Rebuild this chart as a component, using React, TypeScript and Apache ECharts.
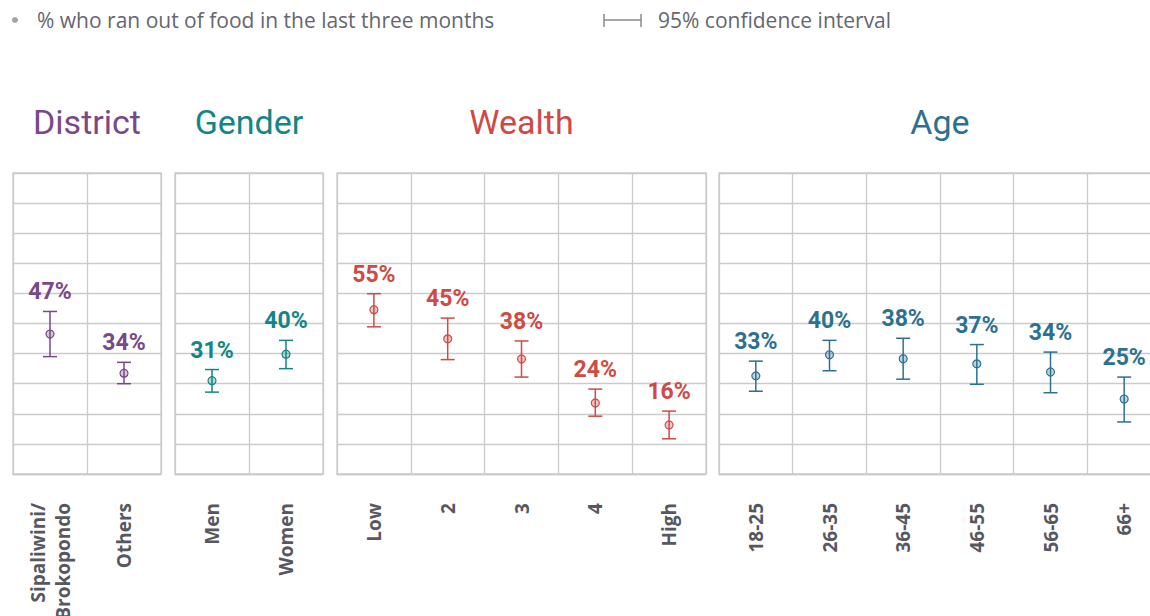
import React, { useEffect, useRef } from "react";
import * as echarts from "echarts";

// ---- data ----
const districtCats = ["Sipaliwini/\nBrokopondo", "Others"];
const districtPct = [46.5, 33.5];
const districtLow = [39.0, 30.0];
const districtHigh = [54.0, 37.1];

const genderCats = ["Men", "Women"];
const genderPct = [31.0, 39.8];
const genderLow = [27.2, 35.0];
const genderHigh = [34.7, 44.4];

const wealthCats = ["Low", "2", "3", "4", "High"];
const wealthPct = [54.6, 44.9, 38.2, 23.6, 16.3];
const wealthLow = [48.9, 38.0, 32.2, 19.2, 11.7];
const wealthHigh = [59.9, 51.8, 44.2, 28.2, 20.9];

const ageCats = ["18-25", "26-35", "36-45", "46-55", "56-65", "66+"];
const agePct = [32.6, 39.6, 38.3, 36.6, 33.9, 24.9];
const ageLow = [27.5, 34.3, 31.5, 29.8, 27.0, 17.3];
const ageHigh = [37.5, 44.4, 45.1, 43.0, 40.5, 32.2];

const groupTitles = ["District", "Gender", "Wealth", "Age"];
const groupColors = ["#784889", "#138684", "#cf4a45", "#2c718f"];
const groupFills = [
  "rgba(120,72,137,0.3)",
  "rgba(19,134,132,0.3)",
  "rgba(207,74,69,0.3)",
  "rgba(44,113,143,0.3)",
];

const legendLabel = "% who ran out of food in the last three months";
const ciLabel = "95% confidence interval";

const yMin = 0;
const yMax = 100;
const yStep = 10;

// ---- layout ----
const gridLefts = [13, 175, 337, 719];
const gridWidths = [148, 148, 369, 442];
const gridTop = 173;
const gridHeight = 301;
const gridLine = "#cbcbcb";

const groups = [
  { cats: districtCats, pct: districtPct, low: districtLow, high: districtHigh },
  { cats: genderCats, pct: genderPct, low: genderLow, high: genderHigh },
  { cats: wealthCats, pct: wealthPct, low: wealthLow, high: wealthHigh },
  { cats: ageCats, pct: agePct, low: ageLow, high: ageHigh },
];

export default function App() {
  const ref = useRef<HTMLDivElement>(null);

  useEffect(() => {
    if (!ref.current) return;
    const chart = echarts.init(ref.current, undefined, { renderer: "svg" });

    const grid = groups.map((_, i) => ({
      left: gridLefts[i],
      top: gridTop,
      width: gridWidths[i],
      height: gridHeight,
      show: true,
      borderColor: gridLine,
      borderWidth: 1.3,
      containLabel: false,
      outerBoundsMode: "none",
    }));

    const xAxis = groups.map((g, i) => ({
      type: "category",
      gridIndex: i,
      data: g.cats,
      boundaryGap: true,
      axisTick: { show: false },
      axisLine: { show: true, lineStyle: { color: gridLine, width: 1.3 } },
      splitLine: { show: true, interval: 0, lineStyle: { color: gridLine, width: 1.3 } },
      axisLabel: {
        interval: 0,
        rotate: 90,
        margin: 29,
        fontFamily: "Open Sans",
        fontWeight: "bold",
        fontSize: 19,
        lineHeight: 25,
        color: "#575760",
      },
    }));

    const yAxis = groups.map((_, i) => ({
      type: "value",
      gridIndex: i,
      min: yMin,
      max: yMax,
      interval: yStep,
      axisLabel: { show: false },
      axisLine: { show: false },
      axisTick: { show: false },
      splitLine: { show: true, lineStyle: { color: gridLine, width: 1.3 } },
    }));

    const series: any[] = [];
    groups.forEach((g, i) => {
      const color = groupColors[i];
      series.push({
        type: "custom",
        xAxisIndex: i,
        yAxisIndex: i,
        silent: true,
        data: g.cats.map((_, j) => [j, g.low[j], g.high[j]]),
        renderItem: (params: any, api: any) => {
          const lo = api.coord([api.value(0), api.value(1)]);
          const hi = api.coord([api.value(0), api.value(2)]);
          const cap = 7;
          const style = { stroke: color, lineWidth: 1.5 };
          return {
            type: "group",
            children: [
              { type: "line", shape: { x1: lo[0], y1: lo[1], x2: hi[0], y2: hi[1] }, style },
              { type: "line", shape: { x1: hi[0] - cap, y1: hi[1], x2: hi[0] + cap, y2: hi[1] }, style },
              { type: "line", shape: { x1: lo[0] - cap, y1: lo[1], x2: lo[0] + cap, y2: lo[1] }, style },
            ],
          };
        },
        z: 2,
      });
      series.push({
        type: "scatter",
        xAxisIndex: i,
        yAxisIndex: i,
        silent: true,
        symbol: "circle",
        symbolSize: 8,
        itemStyle: { color: groupFills[i], borderColor: color, borderWidth: 1.2, opacity: 1 },
        data: g.cats.map((_, j) => [j, g.pct[j]]),
        z: 3,
      });
      series.push({
        type: "scatter",
        xAxisIndex: i,
        yAxisIndex: i,
        silent: true,
        symbolSize: 0,
        itemStyle: { opacity: 1 },
        data: g.cats.map((_, j) => [j, g.high[j], g.pct[j]]),
        label: {
          show: true,
          position: "top",
          distance: 8,
          formatter: (p: any) => Math.round(p.value[2]) + "%",
          color,
          opacity: 1,
          fontFamily: "Roboto",
          fontWeight: "bold",
          fontSize: 23,
        },
        z: 4,
      });
    });

    const graphic: any[] = [];
    groups.forEach((_, i) => {
      graphic.push({
        type: "text",
        x: gridLefts[i] + gridWidths[i] / 2,
        y: 122,
        style: {
          text: groupTitles[i],
          fill: groupColors[i],
          fontFamily: "Roboto",
          fontSize: 34,
          align: "center",
          verticalAlign: "middle",
        },
      });
    });
    graphic.push({
      type: "circle",
      shape: { cx: 15, cy: 20, r: 3 },
      style: { fill: "#a3a3a3" },
    });
    graphic.push({
      type: "text",
      x: 37,
      y: 20,
      style: {
        text: legendLabel,
        fill: "#66666e",
        fontFamily: "Open Sans",
        fontSize: 21,
        verticalAlign: "middle",
      },
    });
    const ciStyle = { stroke: "#8a8a8a", lineWidth: 1.5 };
    graphic.push({ type: "line", shape: { x1: 604, y1: 14, x2: 604, y2: 27 }, style: ciStyle });
    graphic.push({ type: "line", shape: { x1: 604, y1: 20, x2: 641, y2: 20 }, style: ciStyle });
    graphic.push({ type: "line", shape: { x1: 641, y1: 14, x2: 641, y2: 27 }, style: ciStyle });
    graphic.push({
      type: "text",
      x: 658,
      y: 20,
      style: {
        text: ciLabel,
        fill: "#66666e",
        fontFamily: "Open Sans",
        fontSize: 21,
        verticalAlign: "middle",
      },
    });

    chart.setOption({
      animation: false,
      backgroundColor: "#ffffff",
      grid,
      xAxis,
      yAxis,
      series,
      graphic,
    });

    return () => chart.dispose();
  }, []);

  return (
    <div
      style={{
        position: "absolute",
        left: 0,
        top: 0,
        width: 1150,
        height: 616,
        overflow: "hidden",
        background: "#fff",
      }}
    >
      <div ref={ref} style={{ width: 1180, height: 616 }} />
    </div>
  );
}
